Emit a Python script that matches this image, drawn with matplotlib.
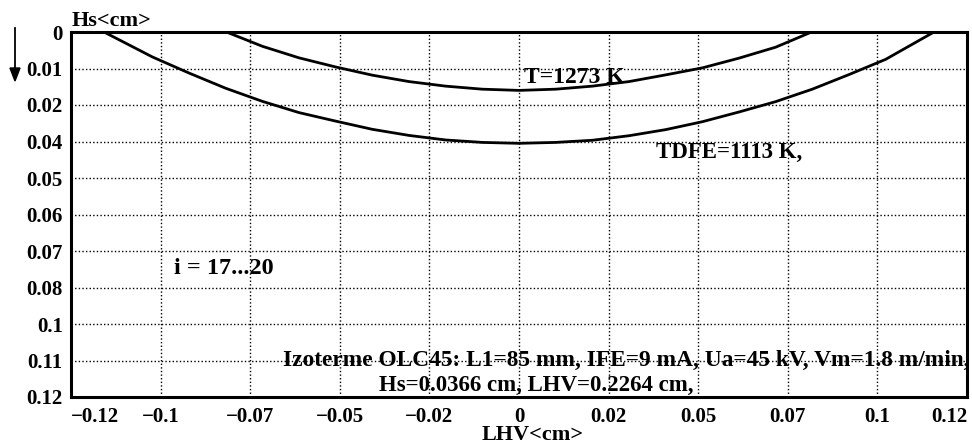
import matplotlib.pyplot as plt
import numpy as np

# outer isotherm (TDFE=1113 K)
lhv_outer = [-0.1132, -0.10, -0.09, -0.08, -0.07, -0.06, -0.05, -0.04, -0.03, -0.02, -0.01, 0.0,
             0.01, 0.02, 0.03, 0.04, 0.05, 0.06, 0.07, 0.08, 0.09, 0.10, 0.1132]
hs_outer = [0.0, 0.0082, 0.0135, 0.0185, 0.0228, 0.0265, 0.0293, 0.0320, 0.0340, 0.0355, 0.0363, 0.0366,
            0.0363, 0.0356, 0.0341, 0.0321, 0.0295, 0.0263, 0.0229, 0.0188, 0.0140, 0.0090, 0.0]

# inner isotherm (T=1273 K)
lhv_inner = [-0.0798, -0.07, -0.06, -0.05, -0.04, -0.03, -0.02, -0.01, 0.0,
             0.01, 0.02, 0.03, 0.04, 0.05, 0.06, 0.07, 0.0798]
hs_inner = [0.0, 0.0047, 0.0085, 0.0115, 0.0142, 0.0163, 0.0178, 0.0188, 0.0192,
            0.0188, 0.0178, 0.0163, 0.0141, 0.0118, 0.0086, 0.0050, 0.0]

# axis ticks (Mathcad style rounded labels)
x_half = 0.1222
x_labels = ['\u22120.12', '\u22120.1', '\u22120.07', '\u22120.05', '\u22120.02', '0',
            '0.02', '0.05', '0.07', '0.1', '0.12']
y_max = 0.12
y_labels = ['0', '0.01', '0.02', '0.04', '0.05', '0.06', '0.07', '0.08', '0.1', '0.11', '0.12']

plt.rcParams['font.family'] = ['Liberation Serif', 'DejaVu Serif']
plt.rcParams['font.weight'] = 'bold'

W, H = 972, 446
fig = plt.figure(figsize=(W / 100, H / 100), dpi=100)
ax = fig.add_axes([71 / W, 1 - 397 / H, 896 / W, 365 / H])

ax.plot(lhv_outer, hs_outer, color='black', lw=2.0)
ax.plot(lhv_inner, hs_inner, color='black', lw=2.0)

ax.set_xlim(-x_half, x_half)
ax.set_ylim(y_max, 0)
ax.set_xticks(np.linspace(-x_half, x_half, 11))
ax.set_xticklabels(x_labels, fontsize=15, fontweight='bold')
ax.set_yticks(np.linspace(0, y_max, 11))
ax.set_yticklabels(y_labels, fontsize=15, fontweight='bold')
ax.get_xticklabels()[0].set_horizontalalignment('left')
ax.get_xticklabels()[-1].set_horizontalalignment('right')
ax.tick_params(axis='y', length=0, pad=6)
ax.tick_params(axis='x', length=0, pad=7)
ax.grid(True, color='black', lw=1.0, linestyle=(0, (1, 1.6)))
for s in ax.spines.values():
    s.set_linewidth(2.2)

# axis titles
fig.text(72 / W, 1 - 26 / H, 'Hs<cm>', fontsize=16, fontweight='bold', ha='left', va='baseline')
fig.text(482 / W, 1 - 440 / H, 'LHV<cm>', fontsize=16, fontweight='bold', ha='left', va='baseline')

# annotations
ax.text(0.0015, 0.0168, 'T=1273 K', fontsize=17, fontweight='bold', va='baseline')
ax.text(0.0375, 0.0414, 'TDFE=1113 K,', fontsize=16.5, fontweight='bold', va='baseline')
ax.text(-0.0940, 0.0796, 'i = 17...20', fontsize=17.5, fontweight='bold', va='baseline')
ax.text(-0.0645, 0.1098, 'Izoterme OLC45: L1=85 mm, IFE=9 mA, Ua=45 kV, Vm=1.8 m/min,',
        fontsize=16.8, fontweight='bold', va='baseline')
ax.text(-0.0381, 0.1180, 'Hs=0.0366 cm, LHV=0.2264 cm,', fontsize=16.5, fontweight='bold',
        va='baseline')

# downward arrow next to the y axis
fig.add_artist(plt.Line2D([15 / W, 15 / W], [1 - 28 / H, 1 - 70 / H], color='black', lw=1.3))
fig.patches.append(plt.Polygon([[10 / W, 1 - 68 / H], [20 / W, 1 - 68 / H], [15 / W, 1 - 81 / H]],
                               closed=True, color='black', transform=fig.transFigure))

fig.savefig('out.png', dpi=100)
